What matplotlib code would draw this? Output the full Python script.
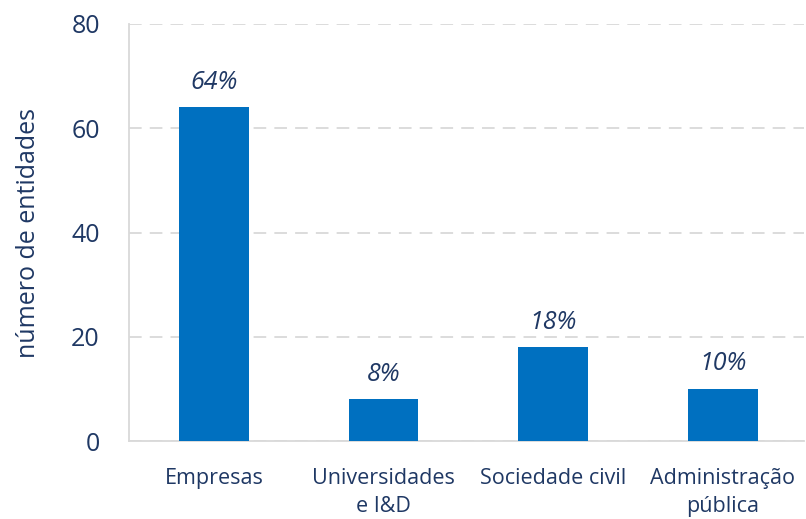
import numpy as np
import matplotlib
matplotlib.use("Agg")
from matplotlib import pyplot as plt

categorias = ["Empresas", "Universidades\ne I&D", "Sociedade civil", "Administração\npública"]
entidades = [64, 8, 18, 10]
percentagens = ["64%", "8%", "18%", "10%"]

plt.rcParams['font.family'] = ['Open Sans', 'DejaVu Sans']
azul = "#0070C0"
texto = "#1F3864"

fig = plt.figure(figsize=(8.06, 5.19), dpi=100)
ax = fig.add_axes([0.160, 0.150, 0.838, 0.804])

x = np.arange(len(categorias))
barras = ax.bar(x, entidades, width=0.41, color=azul, zorder=3)

for b, p in zip(barras, percentagens):
    ax.annotate(p, (b.get_x() + b.get_width() / 2, b.get_height()),
                xytext=(0, 9), textcoords="offset points",
                ha="center", va="bottom", style="italic",
                fontsize=18, color=texto)

ax.set_ylim(0, 80)
ax.set_xlim(-0.5, 3.48)
ax.set_yticks([0, 20, 40, 60, 80])
ax.set_xticks(x)
ax.set_xticklabels(categorias, fontsize=15.5, color=texto, linespacing=1.45)
ax.tick_params(axis="y", labelsize=18, labelcolor=texto, length=0, pad=21)
ax.tick_params(axis="x", length=0, pad=19)
ax.set_ylabel("número de entidades", fontsize=18, color=texto, labelpad=22)

ax.grid(axis="y", color="#D9D9D9", linestyle=(0, (7, 4.5)), linewidth=1.3, zorder=0)
for s in ["top", "right"]:
    ax.spines[s].set_visible(False)
ax.spines["left"].set_color("#D9D9D9")
ax.spines["bottom"].set_color("#D9D9D9")
ax.spines["left"].set_linewidth(1.3)
ax.spines["bottom"].set_linewidth(1.3)

fig.savefig("out.png", dpi=100)
